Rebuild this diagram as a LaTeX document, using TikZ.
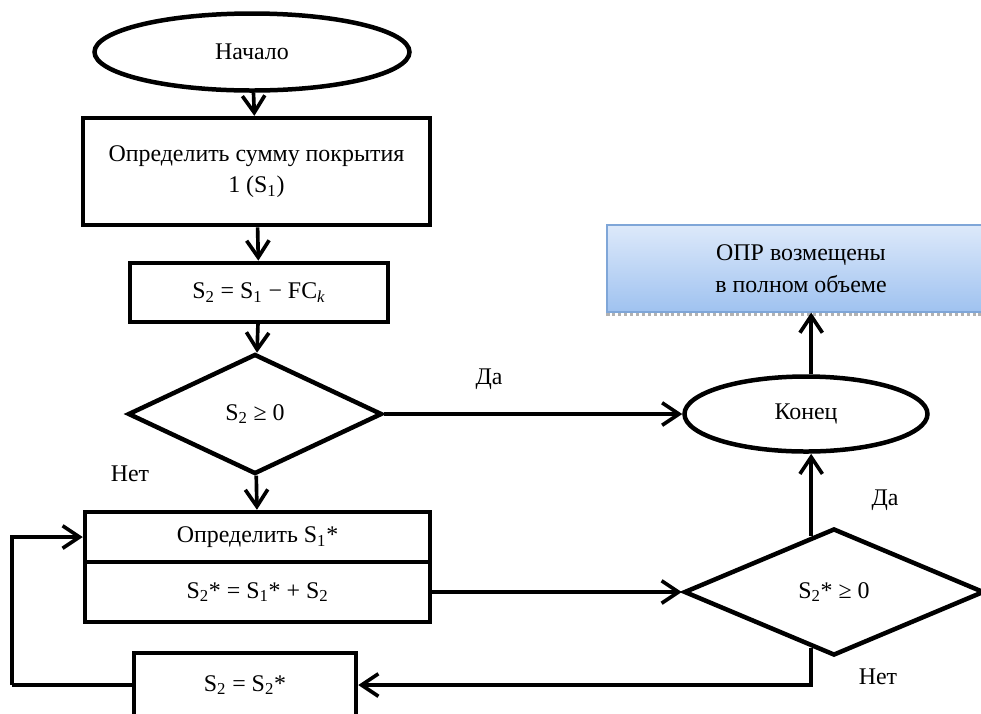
\documentclass[tikz,border=0pt]{standalone}
\usepackage{fontspec}
\setmainfont{Liberation Serif}
\usetikzlibrary{shapes.geometric, arrows.meta, calc}

\definecolor{goaltop}{HTML}{DDE9FA}
\definecolor{goalbot}{HTML}{9FC2F0}
\definecolor{goaledge}{HTML}{7FA6D8}

\begin{document}
\begin{tikzpicture}[
    font=\fontsize{17}{22.7}\selectfont,
    term/.style={ellipse, draw=black, line width=3.2pt, inner sep=0pt},
    block/.style={rectangle, draw=black, line width=3.2pt, inner sep=0pt, text centered, align=center},
    check/.style={diamond, draw=black, line width=3.2pt, inner sep=0pt},
    goal/.style={rectangle, draw=goaledge, line width=0.8pt, top color=goaltop, bottom color=goalbot, align=center, inner sep=0pt},
    arrow/.style={line width=2.6pt, -{Straight Barb[length=12pt, width=16pt, line width=2.6pt]}},
    line/.style={line width=2.6pt},
    answer/.style={inner sep=0pt}
]
\useasboundingbox (0,0) rectangle (24.525,-17.825);
\clip (0,0) rectangle (24.525,-17.825);

% --- Nodes ---
% Left column
\node (start) at (6.3, -1.3) [term, minimum width=7.875cm, minimum height=1.925cm] {Начало};
\node (sum1) at (6.41, -4.29) [block, minimum width=8.675cm, minimum height=2.675cm] {Определить сумму покрытия\\ 1 (S\textsubscript{1})};
\node (sum2) at (6.475, -7.31) [block, minimum width=6.45cm, minimum height=1.475cm] {S\textsubscript{2} = S\textsubscript{1} − FC\textsubscript{\textit{k}}};
\node (chk1) at (6.375, -10.35) [check, minimum width=6.35cm, minimum height=3.0cm] {S\textsubscript{2} ≥ 0};
\node (defs) at (6.4375, -13.425) [block, minimum width=8.625cm, minimum height=1.25cm] {Определить S\textsubscript{1}*};
\node (star) at (6.4375, -14.8) [block, minimum width=8.625cm, minimum height=1.5cm] {S\textsubscript{2}* = S\textsubscript{1}* + S\textsubscript{2}};
\node (swap) at (6.125, -17.125) [block, minimum width=5.55cm, minimum height=1.6cm] {S\textsubscript{2} = S\textsubscript{2}*};

% Right column
\node (goal) at (20.025, -6.7125) [goal, minimum width=9.7cm, minimum height=2.175cm] {ОПР возмещены\\ в полном объеме};
\node (stop) at (20.15, -10.35) [term, minimum width=6.075cm, minimum height=1.875cm] {Конец};
\node (chk2) at (20.85, -14.8) [check, minimum width=7.5cm, minimum height=3.175cm] {S\textsubscript{2}* ≥ 0};
\draw [line width=2.2pt, gray!60, dotted] ([yshift=-1.2pt]goal.south west) -- ([yshift=-1.2pt]goal.south east);

% Answers
\node (yes1) at (12.225, -9.475) [answer] {Да};
\node (no1) at (3.25, -11.85) [answer] {Нет};
\node (yes2) at (22.125, -12.5) [answer] {Да};
\node (no2) at (21.95, -16.925) [answer] {Нет};

% Second check
\coordinate (up) at ($(chk2.north)!0.15!(chk2.west)$);
\coordinate (down) at ($(chk2.south)!0.15!(chk2.west)$);

% --- Edges ---
\draw [arrow] (start) -- (sum1);
\draw [arrow] (sum1) -- (sum2);
\draw [arrow] (sum2) -- (chk1);
\draw [arrow] (chk1) -- (defs);
\draw [arrow] (chk1.east) -- (stop.west);
\draw [arrow] (star.east) -- (chk2.west);
\draw [arrow] (stop.north -| up) -- (goal.south -| up);
\draw [arrow] (up) -- (up |- stop.south);
\draw [arrow] (down) |- (swap.east);

% Loop back
\draw [line] (swap.west) -- ++(-3.0, 0) coordinate (back);
\draw [arrow] (back) |- (defs.west);

\end{tikzpicture}
\end{document}
